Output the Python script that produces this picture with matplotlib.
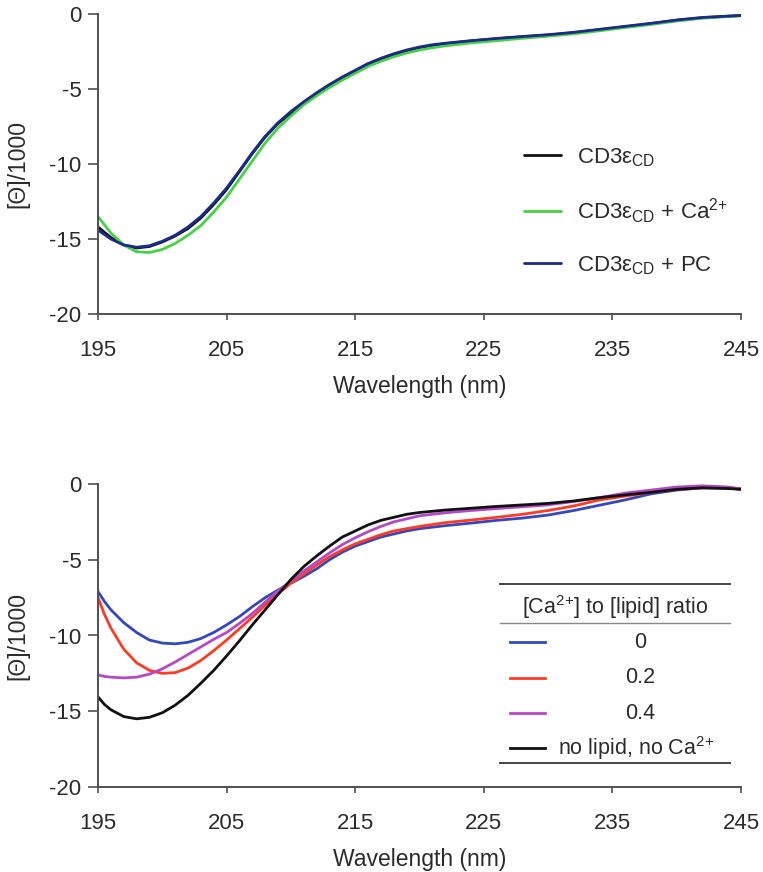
import matplotlib
matplotlib.use("Agg")
import matplotlib.pyplot as plt
from matplotlib.lines import Line2D

plt.rcParams['font.family'] = ['Liberation Sans', 'DejaVu Sans']
plt.rcParams['mathtext.fontset'] = 'custom'
plt.rcParams['mathtext.rm'] = 'Liberation Sans'
plt.rcParams['mathtext.it'] = 'Liberation Sans:italic'
plt.rcParams['mathtext.bf'] = 'Liberation Sans:bold'
plt.rcParams['axes.unicode_minus'] = False

# ---------------- data (top panel) ----------------
wl_top = [195, 196, 197, 198, 199, 200, 201, 202, 203, 204, 205, 206, 207, 208, 209,
          210, 211, 212, 213, 214, 215, 216, 217, 218, 219, 220, 221, 222, 224, 226,
          228, 230, 232, 234, 236, 238, 240, 242, 244, 245]
cd3 = [-14.2, -14.9, -15.4, -15.6, -15.5, -15.2, -14.8, -14.3, -13.6, -12.7, -11.7,
       -10.5, -9.3, -8.2, -7.3, -6.6, -5.9, -5.3, -4.75, -4.25, -3.8, -3.35, -3.0,
       -2.7, -2.45, -2.25, -2.1, -1.98, -1.8, -1.65, -1.52, -1.4, -1.25, -1.05,
       -0.85, -0.65, -0.42, -0.25, -0.15, -0.1]
cd3_ca = [-13.5, -14.6, -15.4, -15.85, -15.9, -15.7, -15.3, -14.75, -14.1, -13.2,
          -12.2, -11.0, -9.8, -8.6, -7.6, -6.8, -6.05, -5.45, -4.9, -4.4, -3.95,
          -3.5, -3.15, -2.85, -2.6, -2.4, -2.25, -2.12, -1.93, -1.78, -1.62, -1.48,
          -1.32, -1.12, -0.9, -0.7, -0.47, -0.28, -0.17, -0.12]
cd3_pc = [-14.4, -15.0, -15.4, -15.55, -15.45, -15.15, -14.75, -14.2, -13.5, -12.6,
          -11.6, -10.45, -9.25, -8.15, -7.25, -6.5, -5.85, -5.25, -4.7, -4.2, -3.75,
          -3.3, -2.95, -2.65, -2.4, -2.2, -2.05, -1.95, -1.78, -1.63, -1.5, -1.38,
          -1.22, -1.02, -0.82, -0.62, -0.4, -0.23, -0.14, -0.1]
top_labels = ["CD3ε$_{\\mathrm{CD}}$", "CD3ε$_{\\mathrm{CD}}$ + Ca$^{2{+}}$",
              "CD3ε$_{\\mathrm{CD}}$ + PC"]

# ---------------- data (bottom panel) ----------------
wl_bot = [195, 195.5, 196, 197, 198, 199, 200, 201, 202, 203, 204, 205, 206, 207, 208,
          209, 210, 211, 212, 213, 214, 215, 216, 217, 218, 219, 220, 222, 224, 226,
          228, 230, 232, 234, 236, 238, 240, 242, 244, 245]
ratio_0 = [-7.1, -7.75, -8.3, -9.15, -9.8, -10.3, -10.5, -10.55, -10.45, -10.2, -9.8,
           -9.3, -8.75, -8.1, -7.5, -7.0, -6.55, -6.1, -5.6, -5.0, -4.5, -4.1, -3.8,
           -3.5, -3.3, -3.1, -2.95, -2.75, -2.58, -2.4, -2.25, -2.05, -1.75, -1.4,
           -1.05, -0.65, -0.4, -0.25, -0.27, -0.35]
ratio_02 = [-7.5, -8.6, -9.5, -10.9, -11.8, -12.3, -12.5, -12.45, -12.15, -11.65, -11.0,
            -10.3, -9.55, -8.8, -8.0, -7.25, -6.55, -5.95, -5.35, -4.8, -4.35, -3.95,
            -3.65, -3.35, -3.1, -2.95, -2.8, -2.55, -2.38, -2.2, -2.0, -1.75, -1.45,
            -1.05, -0.8, -0.55, -0.35, -0.25, -0.25, -0.3]
ratio_04 = [-12.6, -12.7, -12.75, -12.8, -12.75, -12.55, -12.2, -11.75, -11.25, -10.75,
            -10.25, -9.8, -9.2, -8.55, -7.8, -7.05, -6.4, -5.75, -5.15, -4.55, -4.0,
            -3.55, -3.15, -2.8, -2.5, -2.3, -2.1, -1.9, -1.75, -1.62, -1.5, -1.38,
            -1.15, -0.9, -0.6, -0.4, -0.2, -0.12, -0.2, -0.35]
no_lipid = [-14.05, -14.55, -14.9, -15.35, -15.5, -15.4, -15.1, -14.6, -13.95, -13.15,
            -12.3, -11.35, -10.35, -9.3, -8.3, -7.3, -6.3, -5.45, -4.75, -4.1, -3.5,
            -3.1, -2.7, -2.4, -2.2, -2.0, -1.88, -1.72, -1.6, -1.48, -1.38, -1.28,
            -1.12, -0.9, -0.72, -0.55, -0.35, -0.25, -0.3, -0.35]
bot_labels = ["0", "0.2", "0.4", "no lipid, no Ca$^{2{+}}$"]
legend_title = "[Ca$^{2{+}}$] to [lipid] ratio"

xticks = [195, 205, 215, 225, 235, 245]
yticks = [0, -5, -10, -15, -20]
ytick_labels = ["0", "-5", "-10", "-15", "-20"]

TXT = '#2b2b2b'
SPINE = '#505050'
FS = 16

fig = plt.figure(figsize=(7.63, 8.72), dpi=100)
ax1 = fig.add_axes([98/763, 1-314/872, 643/763, 300/872])
ax2 = fig.add_axes([98/763, 1-787/872, 643/763, 303/872])


def style(ax):
    ax.set_xlim(195, 245)
    ax.set_ylim(-20, 0)
    for s in ['top', 'right']:
        ax.spines[s].set_visible(False)
    for s in ['left', 'bottom']:
        ax.spines[s].set_color(SPINE)
        ax.spines[s].set_linewidth(1.4)
    ax.set_xticks(xticks)
    ax.set_xticklabels([str(t) for t in xticks])
    ax.set_yticks(yticks)
    ax.set_yticklabels(ytick_labels)
    ax.tick_params(axis='x', direction='out', length=4, width=1.2, color=SPINE,
                   pad=15, labelsize=FS, labelcolor=TXT)
    ax.tick_params(axis='y', direction='out', length=7, width=1.2, color=SPINE,
                   pad=5, labelsize=FS, labelcolor=TXT)
    ax.set_xlabel("Wavelength (nm)", fontsize=16.5, color=TXT, labelpad=10)
    ax.set_ylabel("[Θ]/1000", fontsize=16.5, color=TXT, labelpad=14)
    ax.patch.set_visible(False)


style(ax1)
style(ax2)

# top panel
top_colors = ['#111111', '#44d144', '#1c2a8c']
for ys, c, lab in zip([cd3, cd3_ca, cd3_pc], top_colors, top_labels):
    ax1.plot(wl_top, ys, color=c, lw=2.0, label=lab, solid_capstyle='round')
leg = ax1.legend(loc='center left', bbox_to_anchor=(0.663, 0.342), frameon=False,
                 fontsize=FS, handlelength=1.65, handletextpad=0.7,
                 labelspacing=1.25, borderpad=0, borderaxespad=0)
for t in leg.get_texts():
    t.set_color(TXT)

# bottom panel
bot_colors = ['#3347c0', '#ff3a22', '#b648c8', '#111111']
bot_series = [ratio_0, ratio_02, ratio_04, no_lipid]
for ys, c in zip(bot_series, bot_colors):
    ax2.plot(wl_bot, ys, color=c, lw=2.0, solid_capstyle='round')

# table-style legend for bottom panel (axes fraction coordinates)
tr = ax2.transAxes
LFS = 15.5
ax2.add_line(Line2D([0.625, 0.983], [0.670, 0.670], transform=tr, color='#444444', lw=1.4))
ax2.text(0.804, 0.594, legend_title, transform=tr, ha='center', va='center',
         fontsize=LFS, color=TXT)
ax2.add_line(Line2D([0.625, 0.983], [0.541, 0.541], transform=tr, color='#888888', lw=1.0))
entry_y = [0.4785, 0.360, 0.244, 0.129]
for i, (c, lab, yy) in enumerate(zip(bot_colors, bot_labels, entry_y)):
    ax2.add_line(Line2D([0.641, 0.695], [yy, yy], transform=tr, color=c, lw=2.0))
    if i < 3:
        ax2.text(0.843, yy, lab, transform=tr, ha='center', va='center',
                 fontsize=LFS, color=TXT)
    else:
        ax2.text(0.716, yy, lab, transform=tr, ha='left', va='center',
                 fontsize=LFS, color=TXT)
ax2.add_line(Line2D([0.625, 0.983], [0.079, 0.079], transform=tr, color='#444444', lw=1.4))

fig.savefig("out.png", dpi=100)
